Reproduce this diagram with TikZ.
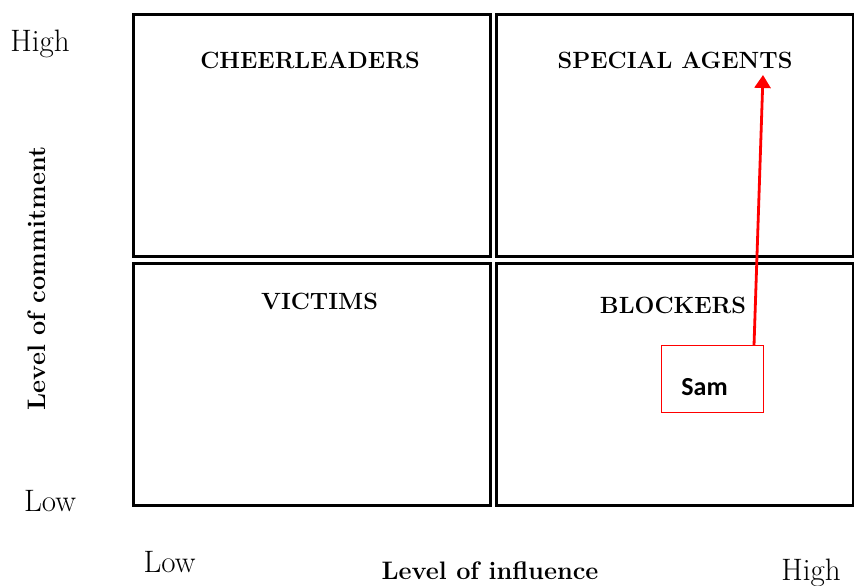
\documentclass[tikz,border=0pt]{standalone}
\usepackage{fontspec}
\newfontfamily\samfont{Carlito}
\usetikzlibrary{arrows.meta}
\tikzset{
  quad/.style={draw=black, line width=3pt, rectangle, inner sep=0pt, outer sep=0pt, anchor=north west},
  quadtitle/.style={anchor=base, inner sep=0pt, font=\fontsize{23.5}{27}\selectfont\bfseries},
  axislevel/.style={anchor=base, inner sep=0pt, font=\fontsize{31}{35}\selectfont},
  axistitle/.style={anchor=base, inner sep=0pt, font=\fontsize{25.3}{29}\selectfont\bfseries},
  personbox/.style={draw=red, line width=1.7pt, rectangle, inner sep=0pt, outer sep=0pt, anchor=north west},
  personname/.style={anchor=base, inner sep=0pt, font=\samfont\fontsize{26}{29}\selectfont\bfseries},
  move/.style={draw=red, line width=2.8pt, -{Triangle[length=13pt,width=16pt]}}
}
\begin{document}
\begin{tikzpicture}[x=1pt,y=-1pt]
  \useasboundingbox (0,0) rectangle (854,586);
  % the four quadrants
  \node[quad, minimum width=357pt, minimum height=242pt] (cheer) at (133.5,14.5) {};
  \node[quad, minimum width=356.5pt, minimum height=242pt] (special) at (496.5,14.5) {};
  \node[quad, minimum width=357pt, minimum height=241.5pt] (victims) at (133.5,263.5) {};
  \node[quad, minimum width=356.5pt, minimum height=241.5pt] (blockers) at (496.5,263.5) {};
  % quadrant titles
  \node[quadtitle] (tcheer) at (310,69) {CHEERLEADERS};
  \node[quadtitle] (tspecial) at (675,69) {SPECIAL AGENTS};
  \node[quadtitle] (tvictims) at (319.5,309) {VICTIMS};
  \node[quadtitle] (tblockers) at (673,313) {BLOCKERS};
  % axis levels
  \node[axislevel] (yhigh) at (40,52) {High};
  \node[axislevel] (ylow) at (50,511) {Low};
  \node[axislevel] (xlow) at (169.5,572) {Low};
  \node[axislevel] (xhigh) at (811,580) {High};
  % axis titles
  \node[axistitle] (xtitle) at (490,579) {Level of influence};
  \node[axistitle, rotate=90] (ytitle) at (45,278.5) {Level of commitment};
  % the person and the intended move
  \node[personbox, minimum width=102pt, minimum height=67pt] (sam) at (661.5,345.5) {};
  \node[personname] (samname) at (704.5,395) {Sam};
  \coordinate (goal) at (763,75);
  \draw[move] ([xshift=-9.5pt]sam.north east) -- (goal);
\end{tikzpicture}
\end{document}
